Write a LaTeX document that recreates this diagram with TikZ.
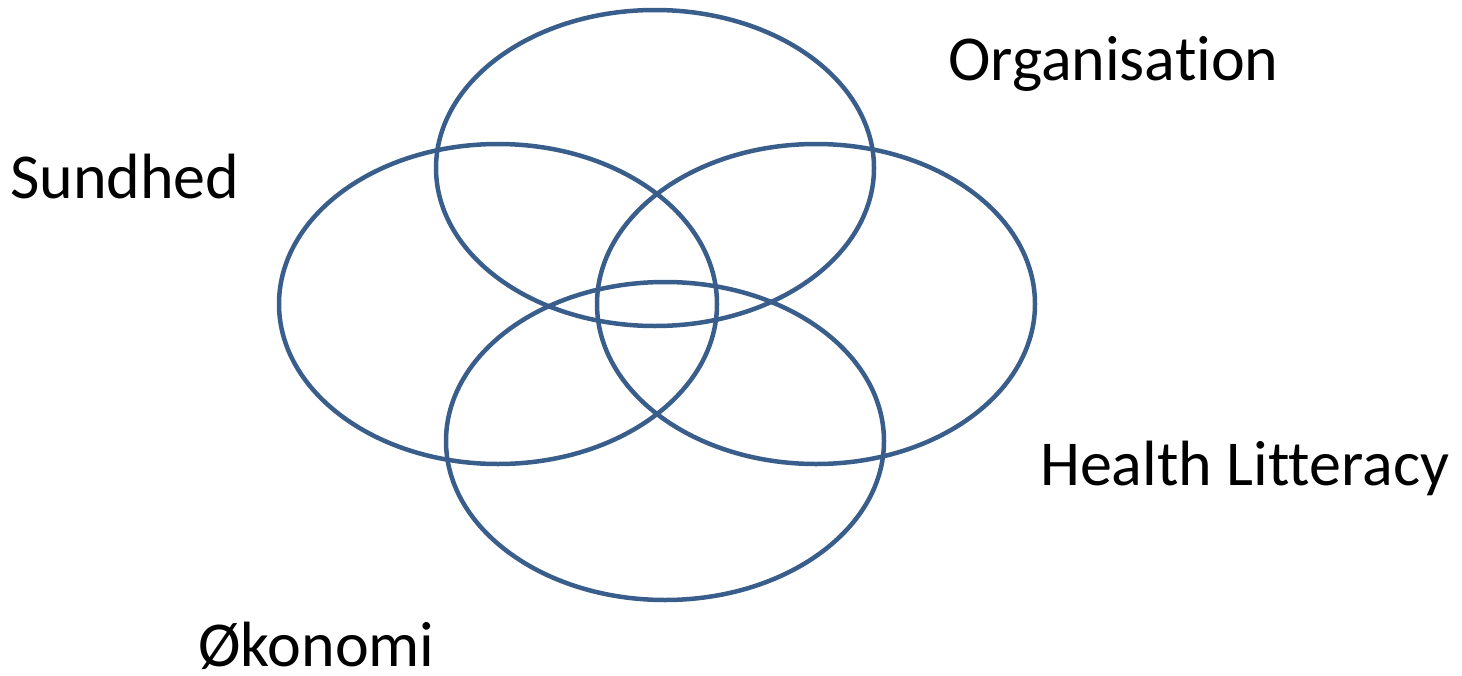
\documentclass[tikz,border=0pt]{standalone}
\usepackage{fontspec}
\setmainfont[Ligatures=NoCommon]{Carlito}
\usepackage{xcolor}
\usepackage{tikz}
\usetikzlibrary{shapes.geometric}
\definecolor{RingBlue}{HTML}{3A5E8C}

\begin{document}
\begin{tikzpicture}[
    x=1pt, y=-1pt,
    ring/.style={ellipse, draw=RingBlue, line width=4.5pt, inner sep=0pt,
      minimum width=438pt, minimum height=318pt},
    lbl/.style={anchor=base west, inner sep=0pt, font=\fontsize{64}{70}\selectfont}
  ]
    \useasboundingbox (0,0) rectangle (1462,675);
    \node[ring, minimum height=316pt] (org) at (655,168) {};
    \node[ring, minimum height=320pt] (sund) at (498,304) {};
    \node[ring, minimum height=320pt] (health) at (816,304) {};
    \node[ring] (oko) at (665,441) {};

    \node[lbl] (orgtxt) at (948,80) {Organisation};
    \node[lbl] (sundtxt) at (10,198) {Sundhed};
    \node[lbl] (healthtxt) at (1040,485) {Health Litteracy};
    \node[lbl] (okotxt) at (198,666) {Økonomi};
  \end{tikzpicture}
\end{document}
